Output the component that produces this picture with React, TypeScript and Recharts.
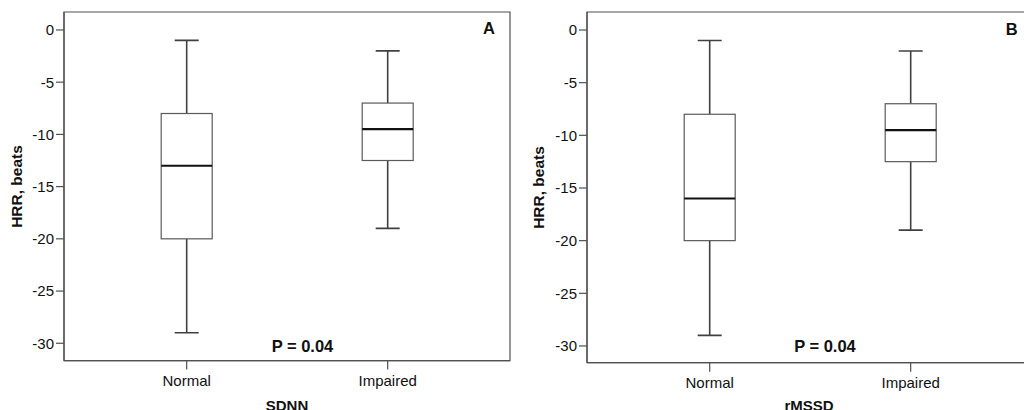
import React from 'react';
import { ComposedChart, Bar, XAxis, YAxis, ReferenceArea } from 'recharts';

const categories = ['Normal', 'Impaired'];
const yTicks = [0, -5, -10, -15, -20, -25, -30];

const sdnnMin = [-29, -19];
const sdnnQ1 = [-20, -12.5];
const sdnnMedian = [-13, -9.5];
const sdnnQ3 = [-8, -7];
const sdnnMax = [-1, -2];

const rmssdMin = [-29, -19];
const rmssdQ1 = [-20, -12.5];
const rmssdMedian = [-16, -9.5];
const rmssdQ3 = [-8, -7];
const rmssdMax = [-1, -2];

const FONT = '"Liberation Sans", Arial, Helvetica, sans-serif';
const FRAME = '#505050';
const X_DOMAIN: [number, number] = [0.3896, 2.6085];
const X_TICKS = categories.map((_, i) => i + 1);

function buildData(mn: number[], q1: number[], md: number[], q3: number[], mx: number[]) {
  return categories.map((name, i) => ({
    name,
    pos: i + 1,
    range: [mn[i], mx[i]],
    min: mn[i],
    q1: q1[i],
    median: md[i],
    q3: q3[i],
    max: mx[i],
  }));
}

const sdnnData = buildData(sdnnMin, sdnnQ1, sdnnMedian, sdnnQ3, sdnnMax);
const rmssdData = buildData(rmssdMin, rmssdQ1, rmssdMedian, rmssdQ3, rmssdMax);

const BoxShape = (props: any) => {
  const { x, y, width, height, payload } = props;
  if (payload == null || x == null) return null;
  const top = Math.min(y, y + height);
  const bottom = Math.max(y, y + height);
  const { min, q1, median, q3, max } = payload;
  const px = (v: number) => top + ((bottom - top) * (max - v)) / (max - min);
  const cx = x + width / 2;
  const cap = 12;
  const yq1 = px(q1);
  const yq3 = px(q3);
  const ymed = px(median);
  return (
    <g>
      <line x1={cx} x2={cx} y1={top} y2={yq3} stroke="#404040" strokeWidth={1.6} />
      <line x1={cx} x2={cx} y1={yq1} y2={bottom} stroke="#404040" strokeWidth={1.6} />
      <line x1={cx - cap} x2={cx + cap} y1={top} y2={top} stroke="#404040" strokeWidth={1.6} />
      <line x1={cx - cap} x2={cx + cap} y1={bottom} y2={bottom} stroke="#404040" strokeWidth={1.6} />
      <rect x={x} y={yq3} width={width} height={yq1 - yq3} fill="#ffffff" stroke="#5a5a5a" strokeWidth={1.2} />
      <line x1={x} x2={x + width} y1={ymed} y2={ymed} stroke="#111111" strokeWidth={2.2} />
    </g>
  );
};

function Panel({ data, domain, xHeight }: { data: any[]; domain: [number, number]; xHeight: number }) {
  return (
    <ComposedChart
      width={520}
      height={410}
      data={data}
      margin={{ top: 12, right: 10, bottom: 0, left: 0 }}
    >
      <XAxis
        dataKey="pos"
        type="number"
        domain={X_DOMAIN}
        ticks={X_TICKS}
        allowDataOverflow
        tickFormatter={(v: number) => categories[Math.round(v) - 1] ?? ''}
        height={xHeight}
        tickSize={9}
        tickMargin={6}
        axisLine={{ stroke: FRAME, strokeWidth: 1.2 }}
        tickLine={{ stroke: FRAME, strokeWidth: 1.2 }}
        tick={{ fill: '#111', fontSize: 15, fontFamily: FONT }}
        interval={0}
      />
      <YAxis
        type="number"
        domain={domain}
        ticks={yTicks}
        width={64}
        allowDataOverflow
        tickSize={8}
        tickMargin={2}
        axisLine={{ stroke: FRAME, strokeWidth: 1.2 }}
        tickLine={{ stroke: FRAME, strokeWidth: 1.2 }}
        tick={{ fill: '#111', fontSize: 15, fontFamily: FONT }}
        interval={0}
      />
      <ReferenceArea
        x1={X_DOMAIN[0]}
        x2={X_DOMAIN[1]}
        y1={domain[0]}
        y2={domain[1]}
        fill="none"
        fillOpacity={0}
        stroke={FRAME}
        strokeWidth={1.2}
      />
      <Bar dataKey="range" barSize={51} shape={<BoxShape />} isAnimationActive={false} />
    </ComposedChart>
  );
}

export default function App() {
  return (
    <div
      style={{
        position: 'fixed',
        left: 0,
        top: 0,
        width: 1024,
        height: 410,
        overflow: 'hidden',
        background: '#ffffff',
      }}
    >
      <div style={{ position: 'absolute', left: 0, top: 0 }}>
        <Panel data={sdnnData} domain={[-31.66, 1.72]} xHeight={49.4} />
      </div>
      <div style={{ position: 'absolute', left: 523, top: 0 }}>
        <Panel data={rmssdData} domain={[-31.59, 1.71]} xHeight={47.3} />
      </div>
      <svg
        width={1024}
        height={410}
        style={{ position: 'absolute', left: 0, top: 0, pointerEvents: 'none' }}
      >
        <g fontFamily={FONT} fontWeight="bold" fill="#111">
          <text x={16.5} y={186.5} fontSize={15.5} textAnchor="middle" dominantBaseline="central" transform="rotate(-90 16.5 186.5)">
            HRR, beats
          </text>
          <text x={538.3} y={187.5} fontSize={15.5} textAnchor="middle" dominantBaseline="central" transform="rotate(-90 538.3 187.5)">
            HRR, beats
          </text>
          <text x={287} y={411} fontSize={15} textAnchor="middle">SDNN</text>
          <text x={809} y={411} fontSize={15} textAnchor="middle">rMSSD</text>
          <text x={302.5} y={351.7} fontSize={16.5} textAnchor="middle">P = 0.04</text>
          <text x={825} y={351.7} fontSize={16.5} textAnchor="middle">P = 0.04</text>
          <text x={489} y={34} fontSize={16.5} textAnchor="middle">A</text>
          <text x={1011.7} y={35} fontSize={16.5} textAnchor="middle">B</text>
        </g>
      </svg>
    </div>
  );
}
